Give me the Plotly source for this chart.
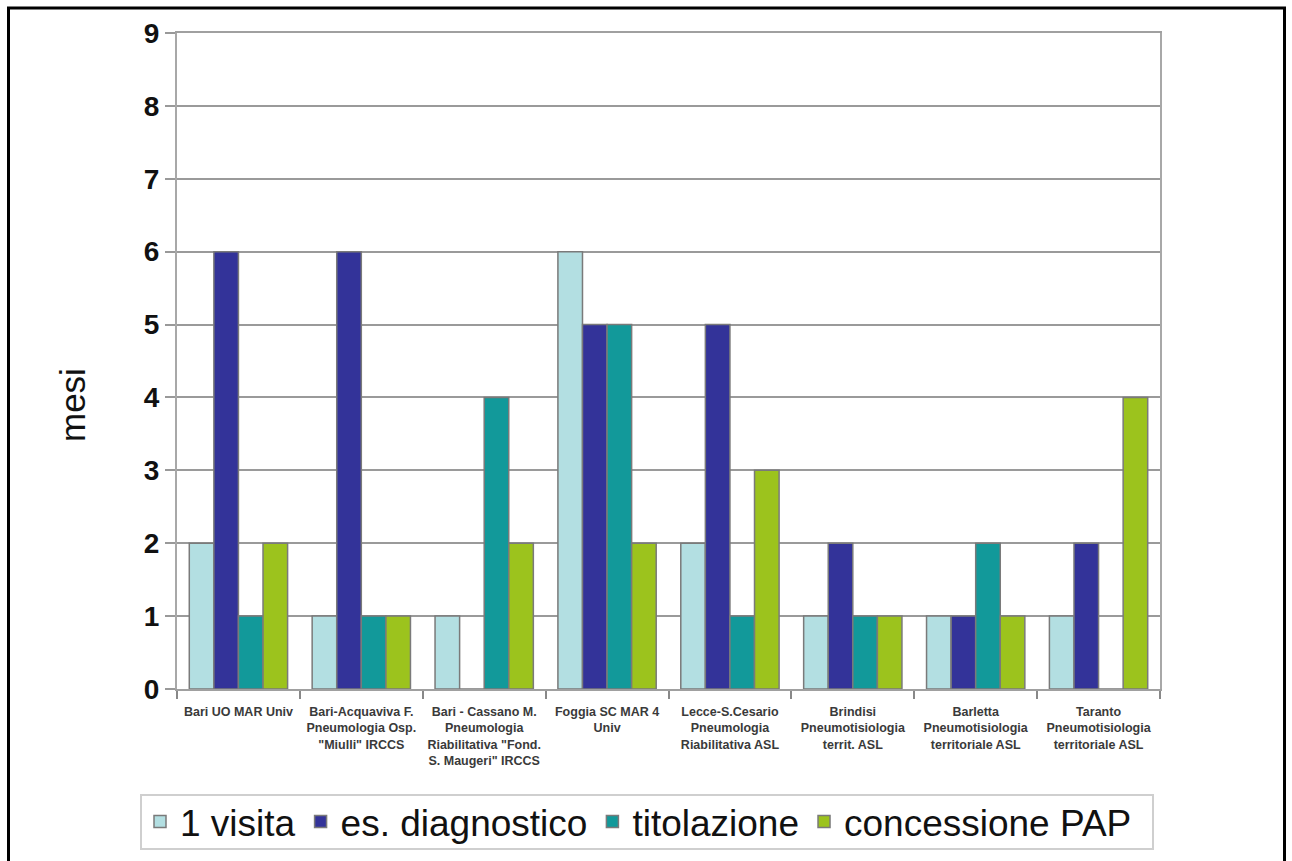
import plotly.graph_objects as go

categories = [
    "Bari UO MAR Univ",
    "Bari-Acquaviva F.<br>Pneumologia Osp.<br>\"Miulli\" IRCCS",
    "Bari - Cassano M.<br>Pneumologia<br>Riabilitativa \"Fond.<br>S. Maugeri\" IRCCS",
    "Foggia SC MAR 4<br>Univ",
    "Lecce-S.Cesario<br>Pneumologia<br>Riabilitativa ASL",
    "Brindisi<br>Pneumotisiologia<br>territ. ASL",
    "Barletta<br>Pneumotisiologia<br>territoriale ASL",
    "Taranto<br>Pneumotisiologia<br>territoriale ASL",
]

visita = [2, 1, 1, 6, 2, 1, 1, 1]
diagnostico = [6, 6, 0, 5, 5, 2, 1, 2]
titolazione = [1, 1, 4, 5, 1, 1, 2, 0]
concessione = [2, 1, 2, 2, 3, 1, 1, 4]

series_names = ["1 visita", "es. diagnostico", "titolazione", "concessione PAP"]
series_values = [visita, diagnostico, titolazione, concessione]
series_colors = ["#b3dfe2", "#333399", "#12999a", "#9cc31d"]

y_ticks = list(range(0, 10))
y_title = "mesi"

FONT = "Liberation Sans, Arial, sans-serif"

fig = go.Figure()
for name, vals, col in zip(series_names, series_values, series_colors):
    fig.add_trace(go.Bar(
        x=categories, y=vals, name=name,
        marker=dict(color=col, line=dict(color="#7a7a7a", width=1.5)),
    ))

# plot area in pixels: left 177, right 1160, top 33, bottom 689
L, R, T, B = 177, 1160, 33, 689
W, H = 1292, 861
pw, ph = R - L, B - T


def px(x):
    return (x - L) / pw


def py(y):
    return (B - y) / ph


shapes = [
    # outer black frame
    dict(type="rect", xref="paper", yref="paper",
         x0=px(8.5), x1=px(1284.5), y0=py(880), y1=py(8),
         line=dict(color="black", width=3), fillcolor="rgba(0,0,0,0)", layer="above"),
    # legend box
    dict(type="rect", xref="paper", yref="paper",
         x0=px(141), x1=px(1153), y0=py(849), y1=py(795),
         line=dict(color="#cfcfcf", width=2), fillcolor="rgba(0,0,0,0)", layer="below"),
]

fig.update_layout(
    width=W, height=H,
    margin=dict(l=L, r=W - R, t=T, b=H - B, autoexpand=False),
    paper_bgcolor="white", plot_bgcolor="white",
    font=dict(family=FONT, color="#111"),
    barmode="group", bargap=0.2, bargroupgap=0,
    showlegend=True,
    legend=dict(
        orientation="h", x=px(140), xanchor="left", y=py(822), yanchor="middle",
        font=dict(family=FONT, size=37, color="#111"),
        bgcolor="rgba(0,0,0,0)", borderwidth=0,
        traceorder="normal",
    ),
    shapes=shapes,
    annotations=[dict(
        text=y_title, xref="paper", yref="paper", x=px(72), y=py(405),
        showarrow=False, textangle=-90, xanchor="center", yanchor="middle",
        font=dict(family=FONT, size=35, color="#111"),
    )],
)

fig.update_xaxes(
    type="category", tickangle=0, tickson="boundaries",
    ticks="outside", ticklen=8, tickwidth=1.5, tickcolor="#888",
    showline=True, linecolor="#a0a0a0", linewidth=2, mirror=True,
    showgrid=False, ticklabelstandoff=10,
    tickfont=dict(family=FONT, size=12.5, color="#3a3a3a", weight="bold"),
)
fig.update_yaxes(
    range=[0, 9], tickmode="array", tickvals=y_ticks, ticktext=[str(v) for v in y_ticks],
    ticks="outside", ticklen=10, tickwidth=1.5, tickcolor="#999",
    showline=True, linecolor="#a8a8a8", linewidth=2, mirror=True,
    showgrid=True, gridcolor="#9a9a9a", gridwidth=2,
    zeroline=False,
    tickfont=dict(family=FONT, size=28, color="#111", weight="bold"),
)

fig.write_html("out.html")
